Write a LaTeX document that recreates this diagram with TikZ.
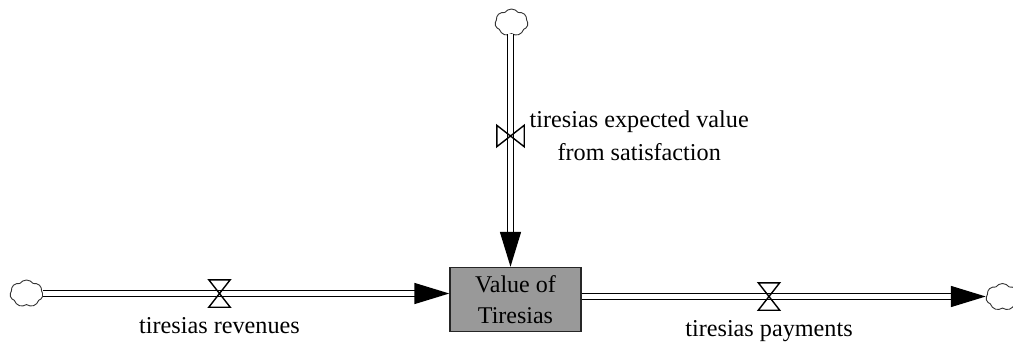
\documentclass[tikz,border=0pt]{standalone}
\usepackage{fontspec}
\setmainfont{Liberation Serif}
\usetikzlibrary{shapes.symbols,arrows.meta,positioning}

\begin{document}
\begin{tikzpicture}[
    x=1pt, y=-1pt,
    stock/.style={rectangle, draw=black!85, line width=1.4pt, fill=black!40, minimum width=131pt, minimum height=64pt, inner sep=0pt, align=center, font=\fontsize{24}{31}\selectfont},
    sink/.style={cloud, draw=black!80, line width=0.9pt, cloud puffs=7, cloud puff arc=110, aspect=1.2, minimum width=33pt, minimum height=27pt, inner sep=0pt},
    valve/.style={rectangle, minimum width=21pt, minimum height=27pt, inner sep=0pt},
    flowname/.style={align=center, inner sep=0pt, font=\fontsize{24.2}{33}\selectfont},
    pipe/.style={line width=1.5pt, double, double distance=4.6pt},
    inflow/.style={pipe, -{Triangle[length=35pt,width=21pt]}}
]
    \useasboundingbox (0,0) rectangle (1013,343);

    \node[stock] (tiresias) at (515.5,299.5) {Value of\\Tiresias};
    \node[sink] (revsource) at (26.5,293.5) {};
    \node[sink] (expsource) at (511.5,22.5) {};
    \node[sink] (paysink) at (1002.5,297) {};
    \node[valve] (revvalve) at (219.5,293.5) {};
    \node[valve, rotate=90] (expvalve) at (510.5,136) {};
    \node[valve] (payvalve) at (769,296.5) {};

    \node[flowname, below=10pt of revvalve] (revlabel) {tiresias revenues};
    \node[flowname, below=10pt of payvalve] (paylabel) {tiresias payments};
    \node[flowname, right=19pt of expvalve.center] (explabel) {tiresias expected value\\from satisfaction};

    \draw[inflow] (revsource.east |- revvalve) -- (revvalve -| tiresias.west);
    \draw[inflow] (expsource.south -| expvalve) -- (expvalve |- tiresias.north);
    \draw[inflow] (payvalve -| tiresias.east) -- (payvalve -| paysink.west);

    \foreach \v in {revvalve,expvalve,payvalve}
        \draw[line width=1.4pt] (\v.north west) -- (\v.south east) -- (\v.south west) -- (\v.north east) -- cycle;
\end{tikzpicture}
\end{document}
